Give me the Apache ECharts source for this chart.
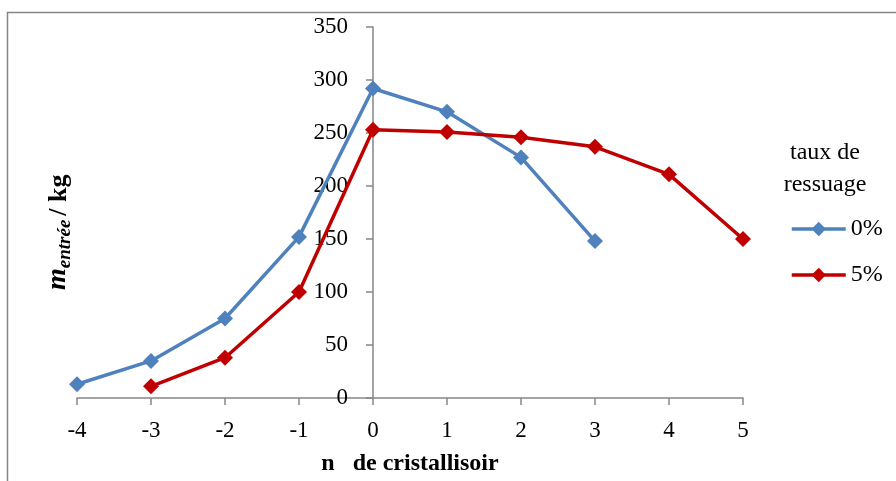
<!DOCTYPE html>
<html>
<head>
<meta charset="utf-8">
<script src="https://cdn.jsdelivr.net/npm/echarts@6/dist/echarts.min.js"></script>
<style>
  html, body { margin: 0; padding: 0; background: #fff; }
  #chart { width: 896px; height: 481px; }
</style>
</head>
<body>
<div id="chart"></div>
<script>
var xBlue = [-4, -3, -2, -1, 0, 1, 2, 3];
var yBlue = [13, 35, 75, 152, 292, 270, 227, 148];
var xRed = [-3, -2, -1, 0, 1, 2, 3, 4, 5];
var yRed = [11, 38, 100, 253, 251, 246, 237, 211, 150];
var seriesNames = ['0%', '5%'];
var colors = ['#4F81BD', '#C00000'];

function pairs(xs, ys) {
  return xs.map(function each(x, i) { return [x, ys[i]]; });
}

var font = '"Liberation Serif", "Times New Roman", serif';
var chart = echarts.init(document.getElementById('chart'));

// y axis sits on x = 0 : grid left is at x = -4, 296px away
var yOffset = -296;

var option = {
  animation: false,
  backgroundColor: '#fff',
  textStyle: { fontFamily: font, color: '#000' },
  grid: { left: 77, right: 153, top: 27, bottom: 83, containLabel: false, outerBoundsMode: 'none' },
  xAxis: {
    type: 'value',
    min: -4,
    max: 5,
    interval: 1,
    splitLine: { show: false },
    axisLine: { onZero: false, lineStyle: { color: '#868686', width: 1.5 } },
    axisTick: { length: 7, lineStyle: { color: '#868686', width: 1.5 } },
    axisLabel: { fontFamily: font, fontSize: 23, color: '#000', margin: 21 },
    name: 'n   de cristallisoir',
    nameLocation: 'middle',
    nameGap: 54,
    nameTextStyle: { fontFamily: font, fontSize: 24, fontWeight: 'bold', color: '#000' }
  },
  yAxis: {
    type: 'value',
    min: 0,
    max: 350,
    interval: 50,
    position: 'left',
    offset: yOffset,
    splitLine: { show: false },
    axisLine: { onZero: false, lineStyle: { color: '#868686', width: 1.5 } },
    axisTick: { length: 7, lineStyle: { color: '#868686', width: 1.5 } },
    axisLabel: { fontFamily: font, fontSize: 23, color: '#000', margin: 25 }
  },
  legend: {
    orient: 'vertical',
    left: 785,
    top: 212,
    itemWidth: 54,
    itemHeight: 18,
    itemGap: 22,
    lineStyle: { width: 3.5 },
    textStyle: { fontFamily: font, fontSize: 24, color: '#000' },
    data: seriesNames
  },
  graphic: [
    {
      type: 'rect',
      shape: { x: 7.5, y: 12.5, width: 900, height: 480 },
      style: { fill: 'none', stroke: '#868686', lineWidth: 1.5 },
      silent: true
    },
    {
      type: 'text',
      x: 825,
      y: 137,
      style: {
        text: 'taux de\nressuage',
        font: '24px ' + font,
        fill: '#000',
        align: 'center',
        lineHeight: 32
      }
    },
    {
      type: 'text',
      x: 44,
      y: 290,
      rotation: Math.PI / 2,
      style: {
        text: '{m|m}{s|entrée}{k|/ kg}',
        fill: '#000',
        rich: {
          m: { font: 'italic bold 28px ' + font, fill: '#000', verticalAlign: 'bottom', padding: [0, 0, 3, 0] },
          s: { font: 'italic bold 19px ' + font, fill: '#000', verticalAlign: 'bottom' },
          k: { font: 'bold 26px ' + font, fill: '#000', verticalAlign: 'bottom', padding: [0, 0, 3, 4] }
        }
      }
    }
  ],
  series: [
    {
      name: seriesNames[0],
      type: 'line',
      data: pairs(xBlue, yBlue),
      symbol: 'diamond',
      symbolSize: 16,
      lineStyle: { color: colors[0], width: 3.5 },
      itemStyle: { color: colors[0] }
    },
    {
      name: seriesNames[1],
      type: 'line',
      data: pairs(xRed, yRed),
      symbol: 'diamond',
      symbolSize: 16,
      lineStyle: { color: colors[1], width: 3.5 },
      itemStyle: { color: colors[1] }
    }
  ]
};

chart.setOption(option);
</script>
</body>
</html>
